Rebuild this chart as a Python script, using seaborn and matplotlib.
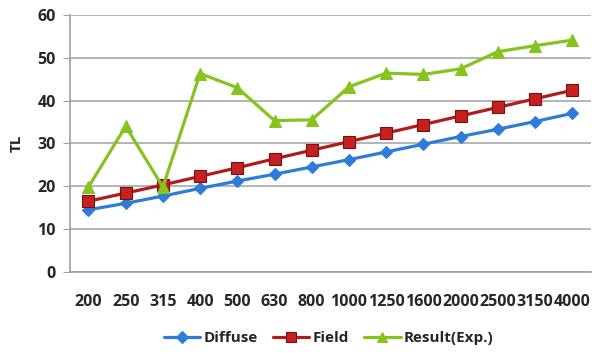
import numpy as np
import pandas as pd
import matplotlib
matplotlib.use("Agg")
import matplotlib.pyplot as plt
import seaborn as sns

freq = ["200", "250", "315", "400", "500", "630", "800", "1000", "1250",
        "1600", "2000", "2500", "3150", "4000"]
diffuse = [14.5, 16.0, 17.7, 19.5, 21.2, 22.8, 24.5, 26.2, 28.0, 29.8, 31.6, 33.3, 35.1, 37.0]
field = [16.5, 18.4, 20.3, 22.3, 24.3, 26.4, 28.4, 30.4, 32.4, 34.4, 36.4, 38.4, 40.4, 42.4]
result = [19.8, 34.0, 19.8, 46.3, 43.0, 35.3, 35.5, 43.2, 46.4, 46.1, 47.4, 51.4, 52.8, 54.1]

sns.set_style("white")
plt.rcParams['font.family'] = ['Open Sans', 'DejaVu Sans']
plt.rcParams['font.weight'] = 'bold'

df = pd.DataFrame({"freq": freq, "Diffuse": diffuse, "Field": field, "Result(Exp.)": result})
long = df.melt(id_vars="freq", var_name="series", value_name="TL")

fig = plt.figure(figsize=(5.92, 3.54), dpi=100)
ax = fig.add_axes([0.118, 0.232, 0.88, 0.726])

pal = {"Diffuse": "#2f7bd8", "Field": "#b01c1c", "Result(Exp.)": "#86c31e"}
mk = {"Diffuse": "D", "Field": "s", "Result(Exp.)": "^"}
sns.lineplot(data=long, x="freq", y="TL", hue="series", style="series",
             palette=pal, markers=mk, dashes=False, sort=False, ax=ax,
             linewidth=2.3, markersize=8, markeredgewidth=0.8, zorder=3)
for ln in ax.lines:
    c = ln.get_color()
    if ln.get_marker() == "D":
        ln.set_markersize(6)
    if c == "#b01c1c":
        ln.set_markersize(8.5)
        ln.set_markeredgecolor("#7a0f0f")
        ln.set_markerfacecolor("#c62020")
    else:
        ln.set_markeredgecolor(c)

ax.set_xlim(-0.5, 13.5)
ax.set_ylim(0, 60)
ax.set_yticks(range(0, 61, 10))
ax.yaxis.grid(True, color="#a8a8a8", linewidth=1.2)
ax.set_axisbelow(True)
for s in ["top", "right"]:
    ax.spines[s].set_visible(False)
for s in ["left", "bottom"]:
    ax.spines[s].set_color("#a0a0a0")
    ax.spines[s].set_linewidth(1.2)

ax.set_xticks(np.arange(-0.5, 14, 1), minor=True)
ax.tick_params(axis="x", which="major", length=0, pad=16, labelsize=11.5)
ax.tick_params(axis="x", which="minor", length=5, color="#a0a0a0", direction="out")
ax.tick_params(axis="y", length=5, color="#a0a0a0", labelsize=11.5, pad=5, left=True)
ax.set_xlabel("")
ax.set_ylabel("TL", fontsize=11, fontweight="bold", labelpad=10)

handles, labels = ax.get_legend_handles_labels()
for h in handles:
    h.set_markersize(6.5)
ax.legend(handles, labels, loc="center", bbox_to_anchor=(0.555, 0.045),
          bbox_transform=fig.transFigure, ncol=3, frameon=False,
          fontsize=11, handlelength=2.4, columnspacing=1.0, handletextpad=0.2)

fig.savefig("out.png", dpi=100)
